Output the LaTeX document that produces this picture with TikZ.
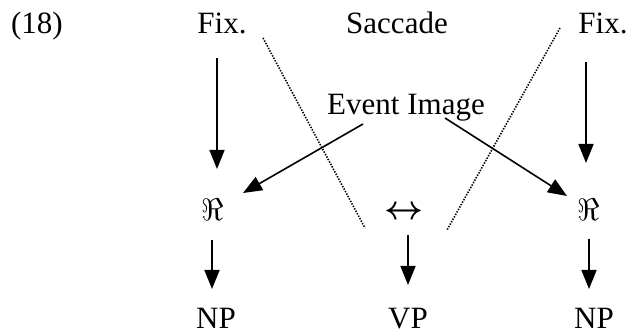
\RequirePackage{fix-cm}
\documentclass[tikz,border=0pt]{standalone}
\usepackage{amsmath}
\usepackage{fontspec}
\setmainfont{Liberation Serif}
\usetikzlibrary{arrows.meta,calc}

\begin{document}
\begin{tikzpicture}[x=1pt,y=-1pt,
  lbl/.style={inner sep=0pt,font=\fontsize{31}{36}\selectfont},
  arr/.style={line width=1.6pt,-{Triangle[width=15pt,length=19pt]}},
  dots/.style={line width=1.6pt,dash pattern=on 1.4pt off 1.4pt}]
\useasboundingbox (0,0) rectangle (629,336);

% top row
\node[lbl,anchor=base] (num)  at (37,34)  {(18)};
\node[lbl,anchor=base] (fixL) at (222,34) {Fix.};
\node[lbl,anchor=base] (sac)  at (397,34) {Saccade};
\node[lbl,anchor=base] (fixR) at (603,34) {Fix.};
\node[lbl,anchor=base] (ev)   at (406,115) {Event Image};

% middle row
\node[lbl] (reL) at (213,210) {$\Re$};
\node[inner sep=0pt,font=\fontsize{34}{40}\selectfont] (lr) at (404,213) {$\boldsymbol{\leftrightarrow}$};
\node[lbl] (reR) at (589,210) {$\Re$};

% bottom row
\node[lbl,anchor=base] (npL) at (216,329) {NP};
\node[lbl,anchor=base] (vp)  at (408,329) {VP};
\node[lbl,anchor=base] (npR) at (594,329) {NP};

% saccade boundaries
\coordinate (dLa) at (263,38);
\coordinate (dLb) at (365,228);
\coordinate (dRa) at (560,28);
\coordinate (dRb) at (447,230);
\draw[dots] (dLa) -- (dLb);
\draw[dots] (dRa) -- (dRb);

% fixations to recognition
\draw[arr] ([shift={(-5,24)}]fixL.base) -- ([shift={(4,-41)}]reL.center);
\draw[arr] ([shift={(-17,28)}]fixR.base) -- ([shift={(-3,-47)}]reR.center);

% event image to recognition
\draw[arr] ([shift={(-43,9)}]ev.base) -- ([shift={(30,-17)}]reL.center);
\draw[arr] ([shift={(39,3)}]ev.base) -- ([shift={(-22,-14)}]reR.center);

% recognition to phrases
\draw[arr] ([shift={(-1,30)}]reL.center) -- ([shift={(-4,-40)}]npL.base);
\draw[arr] ([shift={(4,22)}]lr.center) -- ([shift={(0,-44)}]vp.base);
\draw[arr] ([shift={(0,29)}]reR.center) -- ([shift={(-5,-40)}]npR.base);
\end{tikzpicture}
\end{document}
